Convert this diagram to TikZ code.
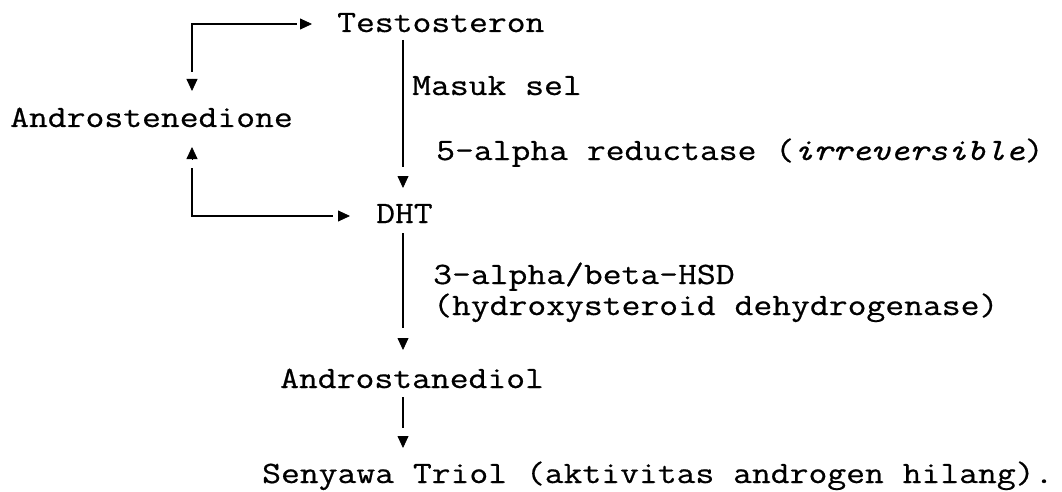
\documentclass[tikz,border=0pt]{standalone}
\usepackage{fontspec}
\setmonofont[FakeStretch=1.18,FakeBold=0.6]{Latin Modern Mono}
\usetikzlibrary{arrows.meta}
\begin{document}
\begin{tikzpicture}[x=1pt,y=-1pt,
  lbl/.style={anchor=base west,inner sep=0pt,font=\fontsize{31}{33}\selectfont\ttfamily},
  ln/.style={line width=1.6pt},
  hd/.style={line width=0.8pt,-{Triangle[length=12pt,width=11pt]}}]
\useasboundingbox (0,0) rectangle (1062,492);
% texts
\node[lbl] (testo) at (337,32) {Testosteron};
\node[lbl] (andro) at (10,127) {Androstenedione};
\node[lbl] (masuk) at (412,95) {Masuk sel};
\node[lbl] (alpha) at (436,160) {5-alpha reductase (\textit{irreversible})};
\node[lbl] (dht) at (376,223) {DHT};
\node[lbl] (hsda) at (433,284) {3-alpha/beta-HSD};
\node[lbl] (hsdb) at (433,315) {(hydroxysteroid dehydrogenase)};
\node[lbl] (diol) at (280,388) {Androstanediol};
\node[lbl] (triol) at (262,483) {Senyawa Triol (aktivitas androgen hilang).};
% loop Androstenedione <-> Testosteron
\coordinate (lt1) at (192,72);
\coordinate (ltc) at (192,24);
\coordinate (lt2) at (297,24);
\draw[ln] (lt1) -- (ltc) -- (lt2);
\draw[hd] (300,24) -- (312,24);
\draw[hd] (192,79) -- (192,91);
% loop Androstenedione <-> DHT
\coordinate (lb1) at (192,168);
\coordinate (lbc) at (192,216);
\coordinate (lb2) at (333,216);
\draw[ln] (lb1) -- (lbc) -- (lb2);
\draw[hd] (338,216) -- (350,216);
\draw[hd] (192,159) -- (192,147);
% Testosteron -> DHT
\coordinate (m1) at (403,40);
\coordinate (m2) at (403,167);
\draw[ln] (m1) -- (m2);
\draw[hd] (403,176) -- (403,188);
% DHT -> Androstanediol
\coordinate (n1) at (403,233);
\coordinate (n2) at (403,328);
\draw[ln] (n1) -- (n2);
\draw[hd] (403,338) -- (403,350);
% Androstanediol -> Triol
\coordinate (o1) at (403,397);
\coordinate (o2) at (403,428);
\draw[ln] (o1) -- (o2);
\draw[hd] (403,436) -- (403,448);
\end{tikzpicture}
\end{document}
